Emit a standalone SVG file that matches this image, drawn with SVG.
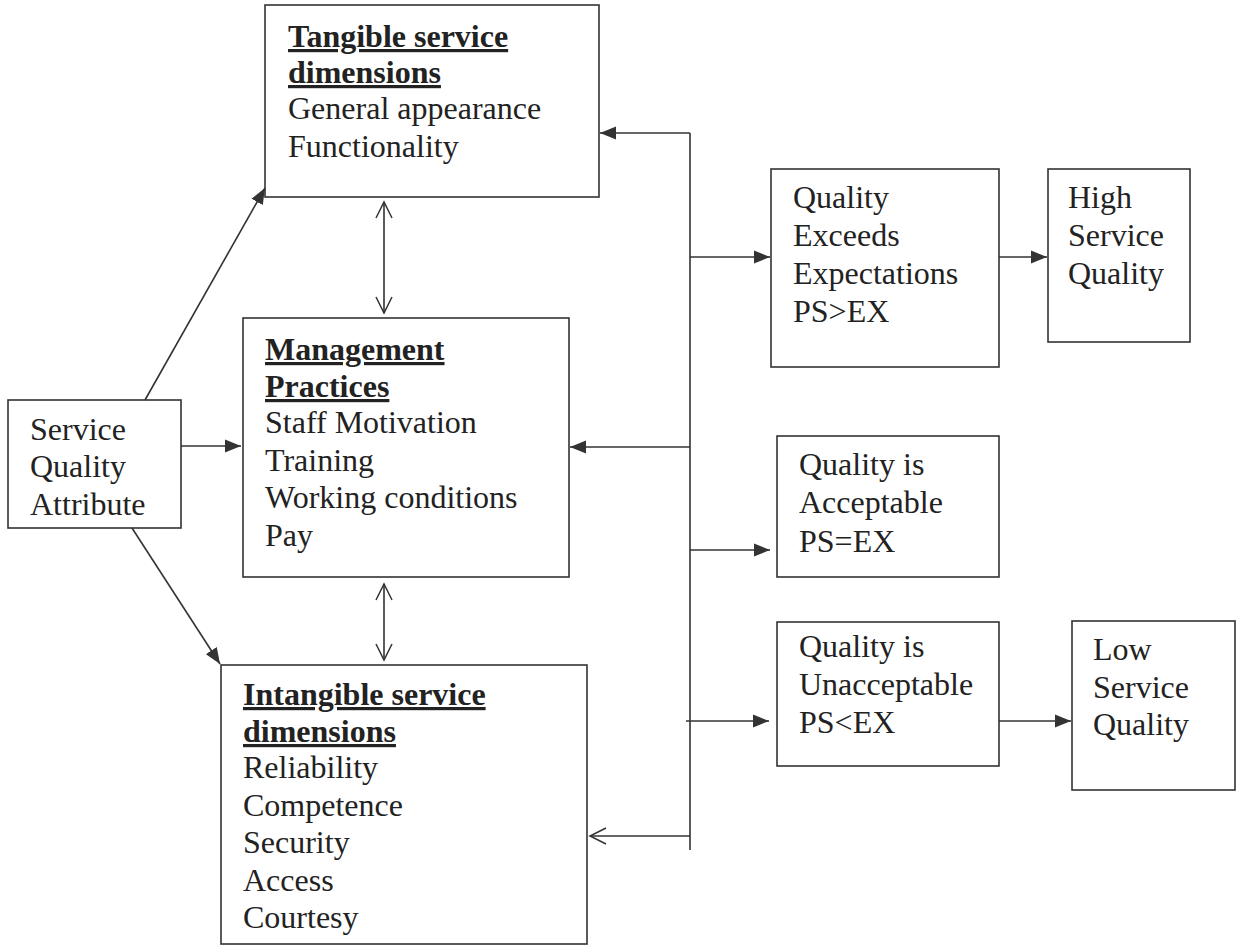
<svg xmlns="http://www.w3.org/2000/svg" width="1241" height="946" viewBox="0 0 1241 946">
<defs>
<style>
.box{fill:none;stroke:#333;stroke-width:1.6}
.t{font-family:"Liberation Serif","Times New Roman",serif;font-size:32px;fill:#222}
.h{font-weight:bold;text-decoration:underline}
.c{fill:none;stroke:#333;stroke-width:1.6}
</style>
<marker id="fa" markerUnits="userSpaceOnUse" markerWidth="18" markerHeight="14" refX="16" refY="7" orient="auto"><path d="M0,0.5 L16,7 L0,13.5 z" fill="#333"/></marker>
<marker id="oa" markerUnits="userSpaceOnUse" markerWidth="20" markerHeight="20" refX="17" refY="10" orient="auto-start-reverse"><path d="M1,2 L17,10 L1,18" fill="none" stroke="#333" stroke-width="1.5"/></marker>
</defs>
<rect width="1241" height="946" fill="#fff"/>
<g id="connectors">
<path class="c" d="M145,400 L265,188" marker-end="url(#fa)"/>
<path class="c" d="M132,528 L220,664" marker-end="url(#fa)"/>
<path class="c" d="M181,446 L241,446" marker-end="url(#fa)"/>
<path class="c" d="M384,202 L384,313" marker-start="url(#oa)" marker-end="url(#oa)"/>
<path class="c" d="M384,584 L384,660" marker-start="url(#oa)" marker-end="url(#oa)"/>
<path class="c" d="M690,133 L690,850"/>
<path class="c" d="M690,133 L600,133" marker-end="url(#fa)"/>
<path class="c" d="M690,447 L570,447" marker-end="url(#fa)"/>
<path class="c" d="M690,836 L590,836" marker-end="url(#oa)"/>
<path class="c" d="M690,257 L770,257" marker-end="url(#fa)"/>
<path class="c" d="M690,550 L770,550" marker-end="url(#fa)"/>
<path class="c" d="M686,721 L769,721" marker-end="url(#fa)"/>
<path class="c" d="M999,257 L1047,257" marker-end="url(#fa)"/>
<path class="c" d="M999,721 L1071,721" marker-end="url(#fa)"/>
</g>
<g id="tangible">
<rect class="box" x="265" y="5" width="334" height="192"/>
<text class="t h" x="288" y="47">Tangible service</text>
<text class="t h" x="288" y="83">dimensions</text>
<text class="t" x="288" y="119">General appearance</text>
<text class="t" x="288" y="157">Functionality</text>
</g>
<g id="attribute">
<rect class="box" x="8" y="400" width="173" height="128"/>
<text class="t" x="30" y="440">Service</text>
<text class="t" x="30" y="477">Quality</text>
<text class="t" x="30" y="515">Attribute</text>
</g>
<g id="management">
<rect class="box" x="243" y="318" width="326" height="259"/>
<text class="t h" x="265" y="360">Management</text>
<text class="t h" x="265" y="397">Practices</text>
<text class="t" x="265" y="433">Staff Motivation</text>
<text class="t" x="265" y="471">Training</text>
<text class="t" x="265" y="508">Working conditions</text>
<text class="t" x="265" y="546">Pay</text>
</g>
<g id="intangible">
<rect class="box" x="221" y="665" width="366" height="279"/>
<text class="t h" x="243" y="705">Intangible service</text>
<text class="t h" x="243" y="742">dimensions</text>
<text class="t" x="243" y="778">Reliability</text>
<text class="t" x="243" y="816">Competence</text>
<text class="t" x="243" y="853">Security</text>
<text class="t" x="243" y="891">Access</text>
<text class="t" x="243" y="928">Courtesy</text>
</g>
<g id="exceeds">
<rect class="box" x="771" y="169" width="228" height="198"/>
<text class="t" x="793" y="208">Quality</text>
<text class="t" x="793" y="246">Exceeds</text>
<text class="t" x="793" y="284">Expectations</text>
<text class="t" x="793" y="322">PS&gt;EX</text>
</g>
<g id="high">
<rect class="box" x="1048" y="169" width="142" height="173"/>
<text class="t" x="1068" y="208">High</text>
<text class="t" x="1068" y="246">Service</text>
<text class="t" x="1068" y="284">Quality</text>
</g>
<g id="acceptable">
<rect class="box" x="777" y="436" width="222" height="141"/>
<text class="t" x="799" y="475">Quality is</text>
<text class="t" x="799" y="513">Acceptable</text>
<text class="t" x="799" y="552">PS=EX</text>
</g>
<g id="unacceptable">
<rect class="box" x="777" y="622" width="222" height="144"/>
<text class="t" x="799" y="657">Quality is</text>
<text class="t" x="799" y="695">Unacceptable</text>
<text class="t" x="799" y="733">PS&lt;EX</text>
</g>
<g id="low">
<rect class="box" x="1072" y="621" width="163" height="169"/>
<text class="t" x="1093" y="660">Low</text>
<text class="t" x="1093" y="698">Service</text>
<text class="t" x="1093" y="735">Quality</text>
</g>
</svg>
